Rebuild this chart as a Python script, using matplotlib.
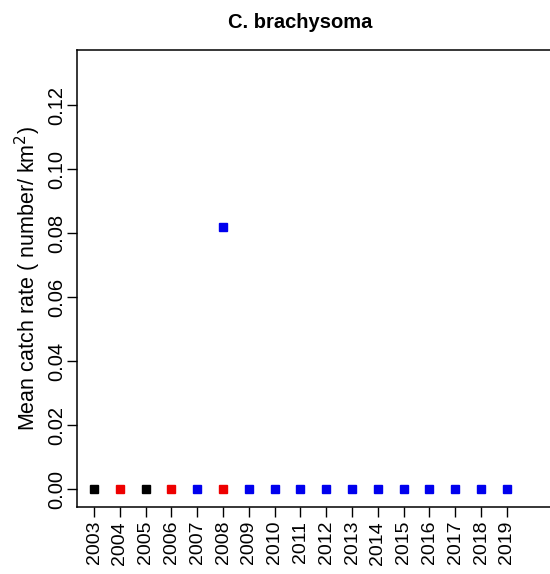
import matplotlib.pyplot as plt

plt.rcParams['font.family'] = ['Liberation Sans', 'DejaVu Sans']

# catch rates by survey series (number / km^2)
black_years = [2003, 2005]
black_rates = [0.0, 0.0]

red_years = [2004, 2006, 2008]
red_rates = [0.0, 0.0, 0.0]

blue_years = [2007, 2008, 2009, 2010, 2011, 2012, 2013, 2014, 2015, 2016, 2017, 2018, 2019]
blue_rates = [0.0, 0.082, 0.0, 0.0, 0.0, 0.0, 0.0, 0.0, 0.0, 0.0, 0.0, 0.0, 0.0]

all_years = list(range(2003, 2020))
y_ticks = [0.00, 0.02, 0.04, 0.06, 0.08, 0.10, 0.12]

fig = plt.figure(figsize=(5.5, 5.74), dpi=100)
ax = fig.add_axes([0.14, 0.1167, 0.896, 0.7962])

ax.plot(black_years, black_rates, 's', color='black', markersize=6, linestyle='none')
ax.plot(red_years, red_rates, 's', color='#ee0000', markersize=6, linestyle='none')
ax.plot(blue_years, blue_rates, 's', color='#0000ee', markersize=6, linestyle='none')

ax.set_xlim(2002.34, 2021.44)
ax.set_ylim(-0.0056, 0.1372)

ax.set_xticks(all_years)
ax.set_xticklabels([str(y) for y in all_years], rotation=90, fontsize=14)
ax.tick_params(axis='x', direction='out', length=7, width=1, color='black', pad=3)
ax.set_yticks(y_ticks)
ax.set_yticklabels(['%.2f' % v for v in y_ticks], rotation=90, va='center', fontsize=14.5)
ax.tick_params(axis='y', direction='out', length=7, width=1, color='black', pad=1)

ax.spines['right'].set_visible(False)
for s in ['left', 'top', 'bottom']:
    ax.spines[s].set_linewidth(1.1)

ax.set_ylabel('Mean catch rate ( number/ km$^2$)', fontsize=15.5, labelpad=3)

fig.text(300 / 550, 1 - 22 / 574, 'C. brachysoma', ha='center', va='center',
         fontsize=14.5, fontweight='bold')

fig.savefig('out.png', dpi=100)
